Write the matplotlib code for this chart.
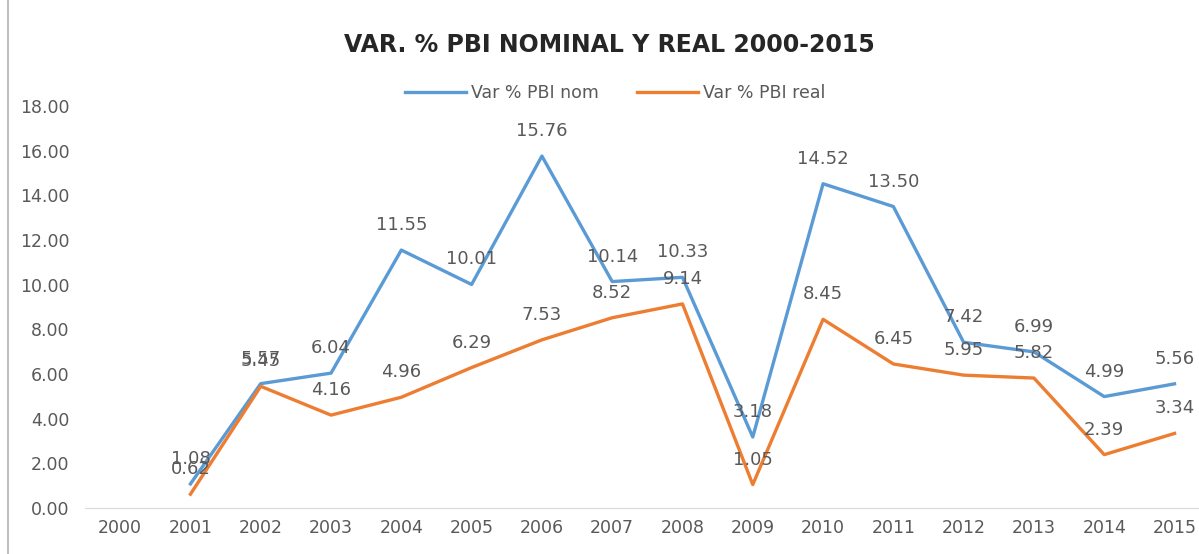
import matplotlib.pyplot as plt
import numpy as np

# datos
anios = ["2000", "2001", "2002", "2003", "2004", "2005", "2006", "2007",
         "2008", "2009", "2010", "2011", "2012", "2013", "2014", "2015"]
pbi_nom = [np.nan, 1.08, 5.57, 6.04, 11.55, 10.01, 15.76, 10.14,
           10.33, 3.18, 14.52, 13.50, 7.42, 6.99, 4.99, 5.56]
pbi_real = [np.nan, 0.62, 5.45, 4.16, 4.96, 6.29, 7.53, 8.52,
            9.14, 1.05, 8.45, 6.45, 5.95, 5.82, 2.39, 3.34]

azul = "#5B9BD5"
naranja = "#ED7D31"
gris = "#595959"

fig = plt.figure(figsize=(11.99, 5.54), dpi=100)
ax = fig.add_axes([0.0709, 0.083, 0.938, 0.7256])

x = np.arange(len(anios))
ax.plot(x, pbi_nom, color=azul, lw=2.4, label="Var % PBI nom")
ax.plot(x, pbi_real, color=naranja, lw=2.4, label="Var % PBI real")

# etiquetas de datos sobre cada punto
for serie in (pbi_nom, pbi_real):
    for i, v in enumerate(serie):
        if np.isnan(v):
            continue
        ax.annotate(f"{v:.2f}", (i, v), xytext=(0, 18), textcoords="offset points",
                    ha="center", va="center", fontsize=13, color=gris)

ax.set_xlim(-0.5, 15.5)
ax.set_ylim(0, 18)
ax.set_xticks(x)
ax.set_xticklabels(anios)
ax.set_yticks(np.arange(0, 19, 2))
ax.set_yticklabels([f"{t:.2f}" for t in np.arange(0, 19, 2)])
ax.tick_params(axis="both", length=0, labelsize=12.5, colors=gris)
ax.tick_params(axis="y", pad=11)
ax.tick_params(axis="x", pad=8)
for s in ["top", "right", "left"]:
    ax.spines[s].set_visible(False)
ax.spines["bottom"].set_color("#D9D9D9")

fig.text(0.508, 0.918, "VAR. % PBI NOMINAL Y REAL 2000-2015", ha="center", va="center",
         fontsize=17, fontweight="bold", color="#262626")
fig.legend(loc="center", bbox_to_anchor=(0.513, 0.832), ncol=2, frameon=False,
           fontsize=12.5, labelcolor=gris, handlelength=3.5, columnspacing=2.2,
           handletextpad=0.3)

# borde izquierdo del area del grafico
fig.add_artist(plt.Line2D([0.007, 0.007], [0, 1], color="#BFBFBF", lw=1.5))

fig.savefig("out.png", dpi=100)
